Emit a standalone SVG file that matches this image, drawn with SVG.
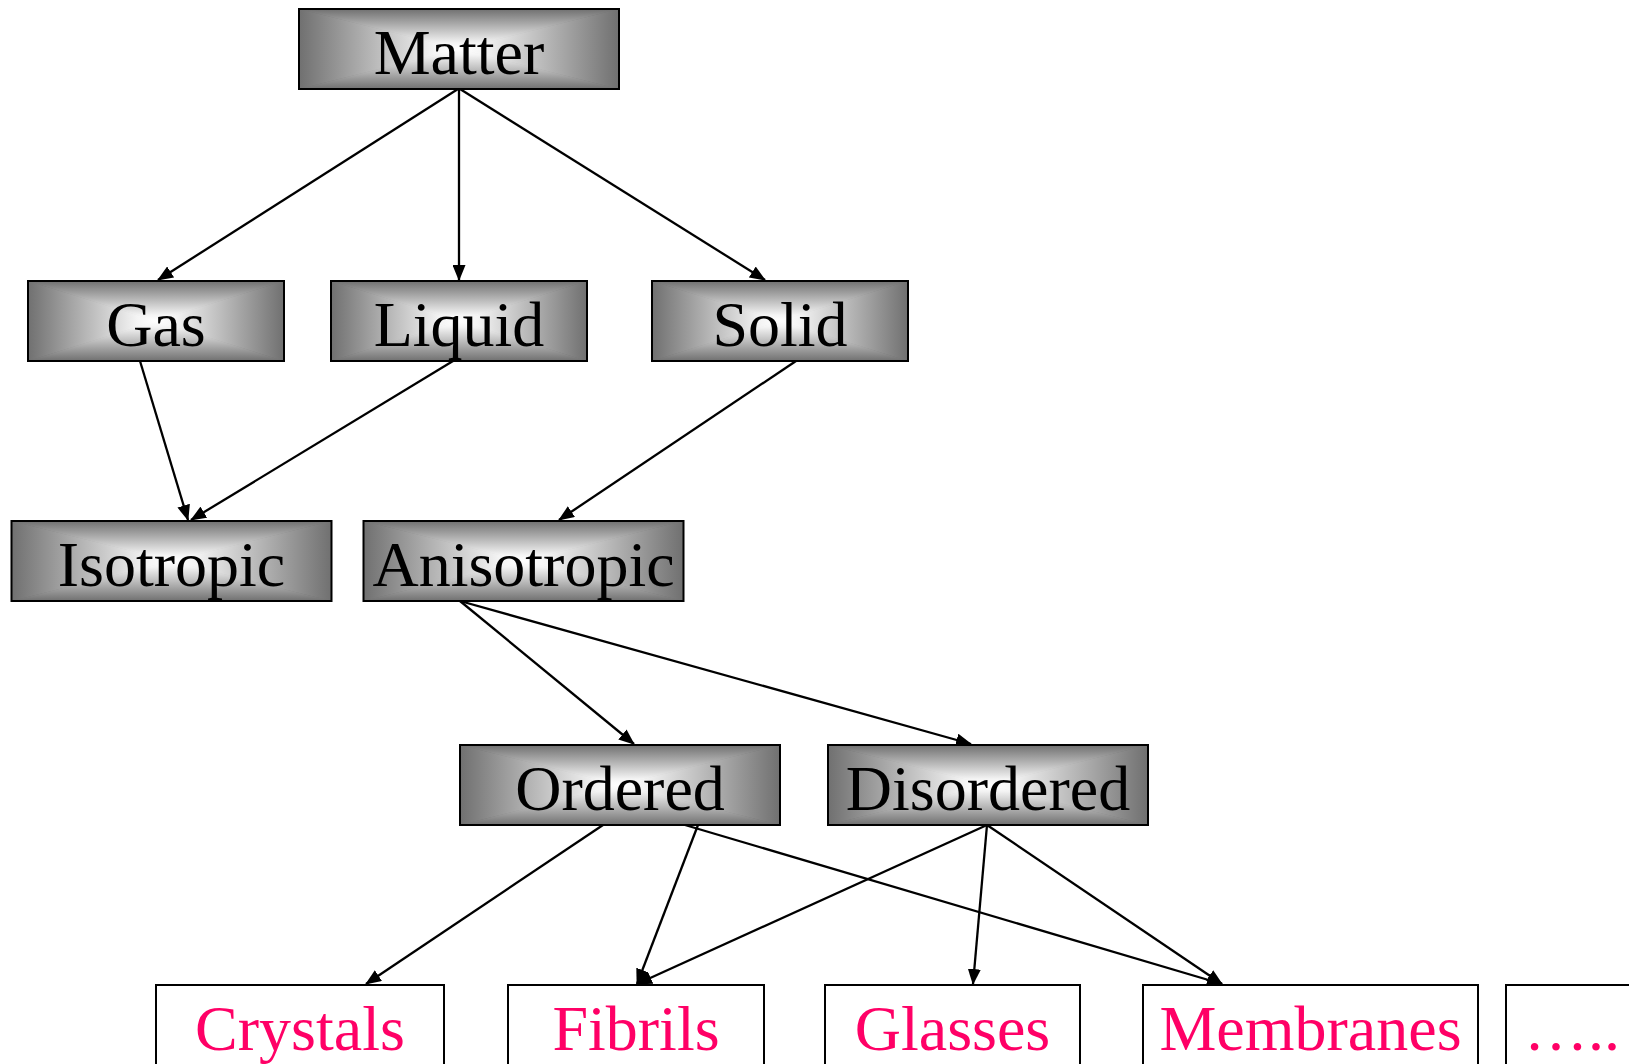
<svg xmlns="http://www.w3.org/2000/svg" xmlns:xlink="http://www.w3.org/1999/xlink" width="1629" height="1064" viewBox="0 0 1629 1064">
<style>
.lbl{font-family:"Liberation Serif","Times New Roman",serif;font-size:64px;fill:#000;text-anchor:middle}
.pink{font-family:"Liberation Serif","Times New Roman",serif;font-size:64px;fill:#FF0066;text-anchor:middle}
.frame{fill:none;stroke:#000;stroke-width:2}
.leaf{fill:#fff;stroke:#000;stroke-width:2}
.edge{stroke:#000;stroke-width:2.3;fill:none;marker-end:url(#arr)}
</style>
<defs>
<linearGradient id="gT" x1="0" y1="0" x2="0" y2="1"><stop offset="0" stop-color="#707070"/><stop offset="0.85" stop-color="#f4f4f4"/><stop offset="1" stop-color="#fff"/></linearGradient>
<linearGradient id="gB" x1="0" y1="1" x2="0" y2="0"><stop offset="0" stop-color="#707070"/><stop offset="0.85" stop-color="#f4f4f4"/><stop offset="1" stop-color="#fff"/></linearGradient>
<linearGradient id="gL" x1="0" y1="0" x2="1" y2="0"><stop offset="0" stop-color="#707070"/><stop offset="0.85" stop-color="#f4f4f4"/><stop offset="1" stop-color="#fff"/></linearGradient>
<linearGradient id="gR" x1="1" y1="0" x2="0" y2="0"><stop offset="0" stop-color="#707070"/><stop offset="0.85" stop-color="#f4f4f4"/><stop offset="1" stop-color="#fff"/></linearGradient>
<radialGradient id="gC" cx="0.5" cy="0.5" r="0.6"><stop offset="0" stop-color="#fff"/><stop offset="1" stop-color="#707070"/></radialGradient>
<symbol id="wide" overflow="visible">
<rect x="0" y="0" width="320" height="80" fill="url(#gC)"/>
<polygon points="0,0 320,0 160,40" fill="url(#gT)"/>
<polygon points="0,80 320,80 160,40" fill="url(#gB)"/>
<polygon points="0,0 160,40 0,80" fill="url(#gL)"/>
<polygon points="320,0 160,40 320,80" fill="url(#gR)"/>
<rect x="0" y="0" width="320" height="80" class="frame"/>
</symbol>
<symbol id="narrow" overflow="visible">
<rect x="0" y="0" width="256" height="80" fill="url(#gC)"/>
<polygon points="0,0 256,0 128,40" fill="url(#gT)"/>
<polygon points="0,80 256,80 128,40" fill="url(#gB)"/>
<polygon points="0,0 128,40 0,80" fill="url(#gL)"/>
<polygon points="256,0 128,40 256,80" fill="url(#gR)"/>
<rect x="0" y="0" width="256" height="80" class="frame"/>
</symbol>
<marker id="arr" markerUnits="userSpaceOnUse" markerWidth="16" markerHeight="13" refX="15" refY="6.5" orient="auto">
<path d="M0,0 L16,6.5 L0,13 Z" fill="#000"/>
</marker>
</defs>

<g id="connectors">
<line class="edge" x1="458" y1="89" x2="158" y2="280"/>
<line class="edge" x1="459" y1="89" x2="459" y2="280"/>
<line class="edge" x1="460" y1="89" x2="765" y2="280"/>
<line class="edge" x1="140" y1="361" x2="188" y2="520"/>
<line class="edge" x1="453" y1="361" x2="191" y2="520"/>
<line class="edge" x1="796" y1="361" x2="559" y2="520"/>
<line class="edge" x1="460" y1="601" x2="634" y2="744"/>
<line class="edge" x1="460" y1="601" x2="971" y2="744"/>
<line class="edge" x1="603" y1="825" x2="366" y2="984"/>
<line class="edge" x1="698" y1="825" x2="637" y2="984"/>
<line class="edge" x1="685" y1="825" x2="1222" y2="984"/>
<line class="edge" x1="987" y1="825" x2="637" y2="984"/>
<line class="edge" x1="987" y1="825" x2="973" y2="984"/>
<line class="edge" x1="987" y1="825" x2="1222" y2="984"/>
</g>

<g id="matter"><use xlink:href="#wide" x="299" y="9"/><text class="lbl" x="459" y="73.5">Matter</text></g>
<g id="gas"><use xlink:href="#narrow" x="28" y="281"/><text class="lbl" x="156" y="345.5">Gas</text></g>
<g id="liquid"><use xlink:href="#narrow" x="331" y="281"/><text class="lbl" x="459" y="345.5">Liquid</text></g>
<g id="solid"><use xlink:href="#narrow" x="652" y="281"/><text class="lbl" x="780" y="345.5">Solid</text></g>
<g id="isotropic"><use xlink:href="#wide" x="11.5" y="521"/><text class="lbl" x="171.5" y="585.5">Isotropic</text></g>
<g id="anisotropic"><use xlink:href="#wide" x="363.5" y="521"/><text class="lbl" x="523.5" y="585.5">Anisotropic</text></g>
<g id="ordered"><use xlink:href="#wide" x="460" y="745"/><text class="lbl" x="620" y="809.5">Ordered</text></g>
<g id="disordered"><use xlink:href="#wide" x="828" y="745"/><text class="lbl" x="988" y="809.5">Disordered</text></g>

<g id="crystals"><rect class="leaf" x="156" y="985" width="288" height="90"/><text class="pink" x="300" y="1049.5">Crystals</text></g>
<g id="fibrils"><rect class="leaf" x="508" y="985" width="256" height="90"/><text class="pink" x="636" y="1049.5">Fibrils</text></g>
<g id="glasses"><rect class="leaf" x="825" y="985" width="255" height="90"/><text class="pink" x="952.5" y="1049.5">Glasses</text></g>
<g id="membranes"><rect class="leaf" x="1143" y="985" width="335" height="90"/><text class="pink" x="1310.5" y="1049.5">Membranes</text></g>
<g id="more"><rect class="leaf" x="1506" y="985" width="140" height="90"/><text class="pink" x="1524" y="1049.5" style="text-anchor:start">…..</text></g>
</svg>
